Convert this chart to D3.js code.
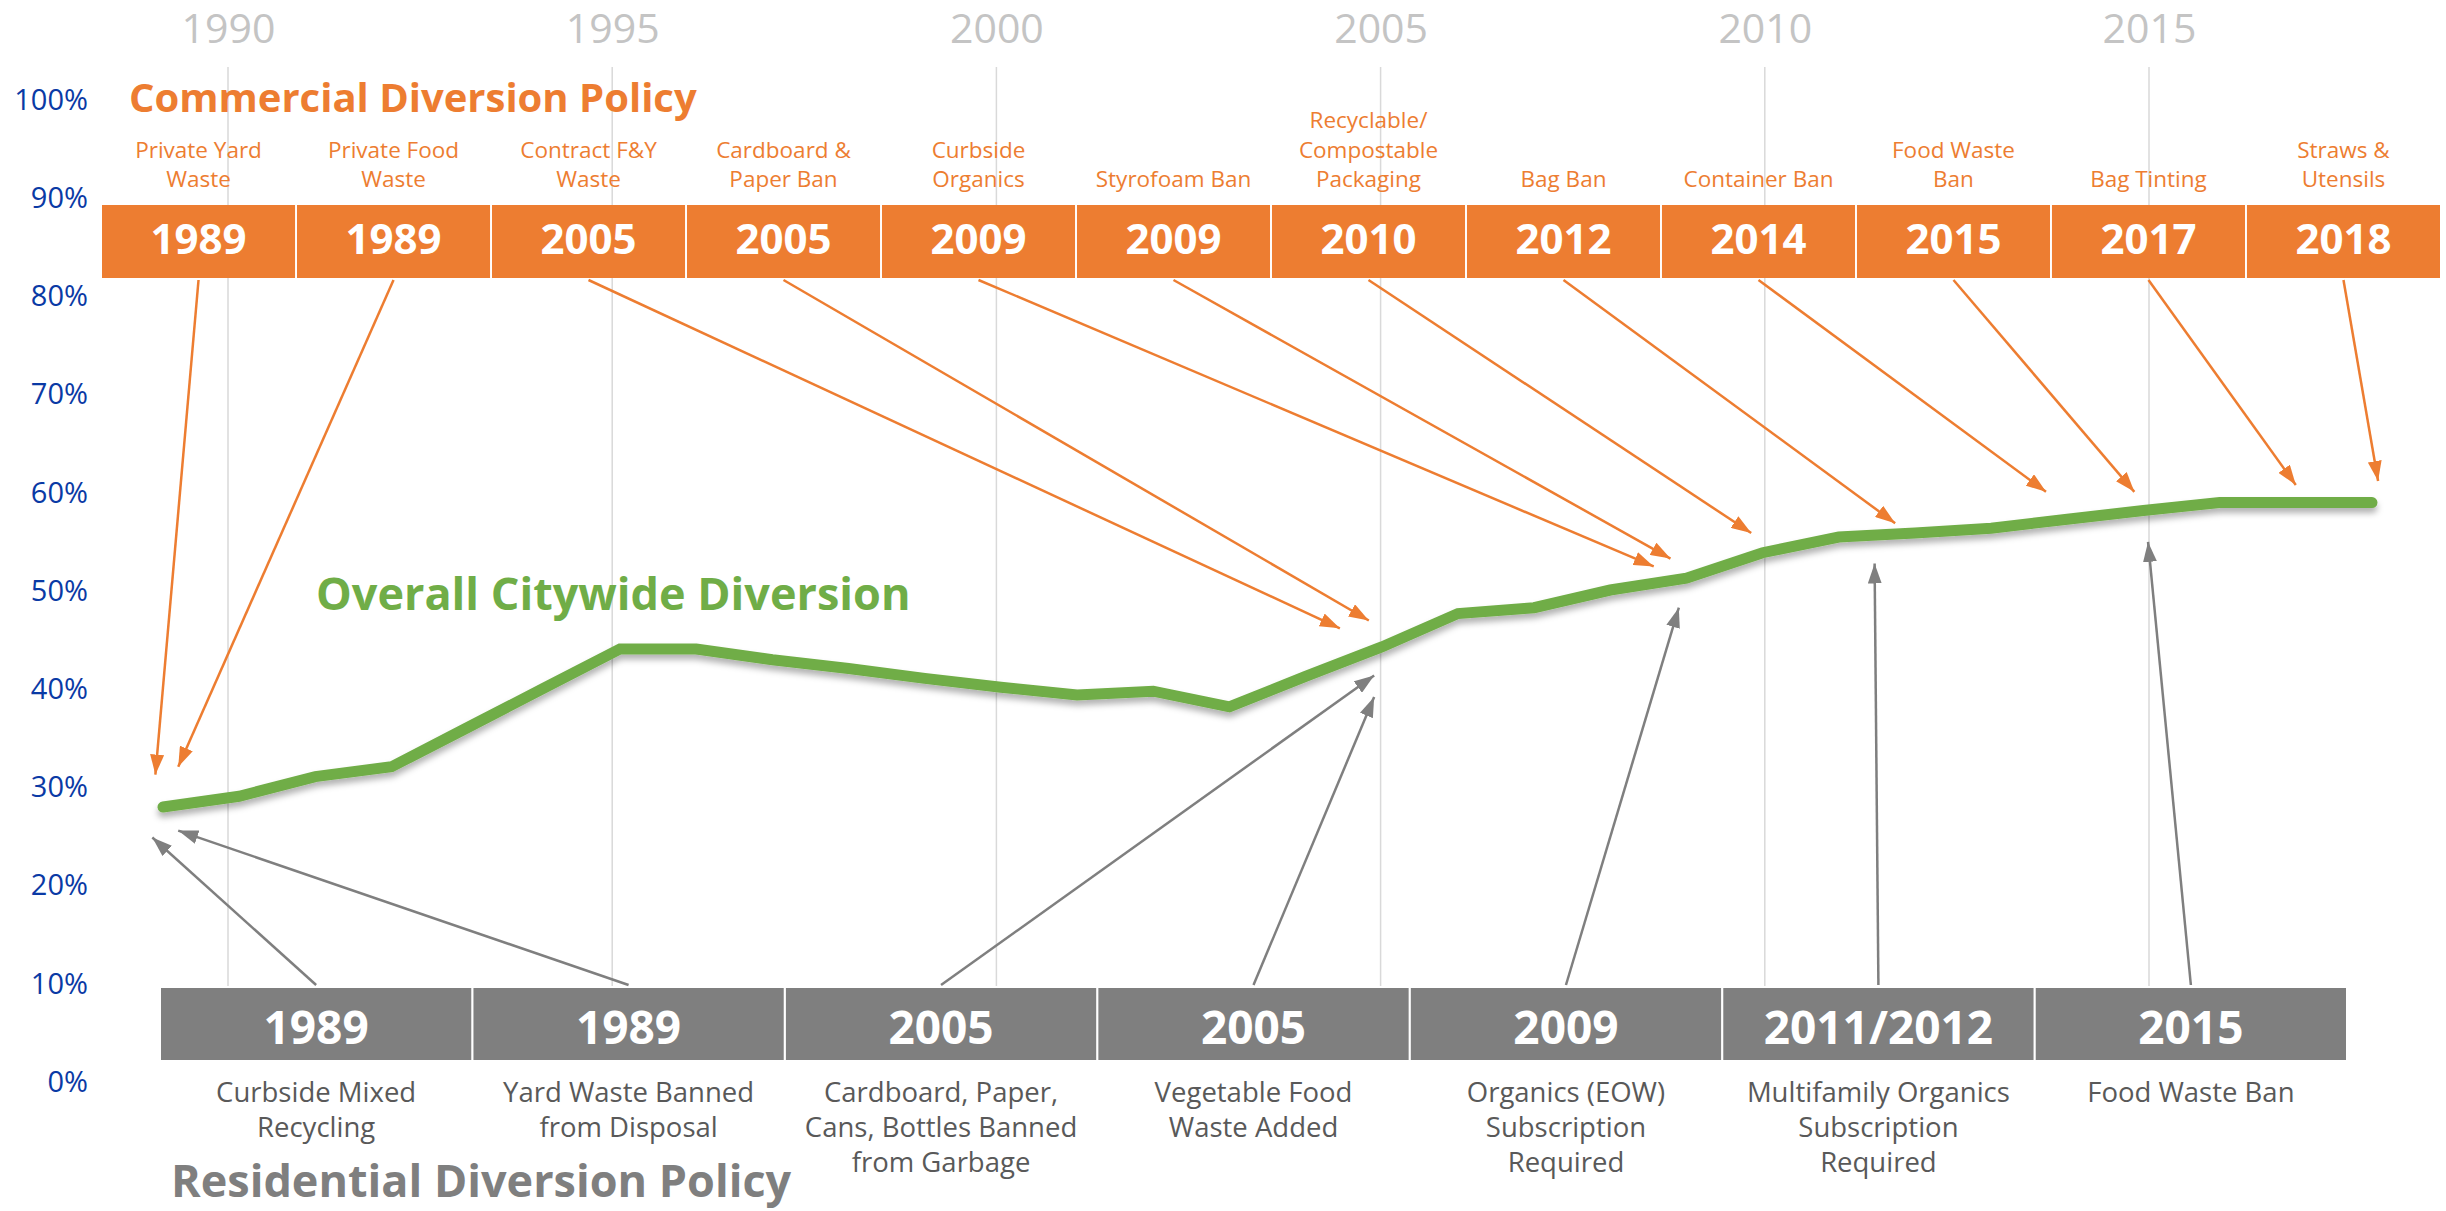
<!DOCTYPE html>
<html>
<head>
<meta charset="utf-8">
<script src="https://cdn.jsdelivr.net/npm/d3@7"></script>
<style>
	body { margin: 0; background: #ffffff; }
	svg { display: block; font-family: "Open Sans", "Noto Sans", sans-serif; }
</style>
</head>
<body>
<div id="chart"></div>
<script>
// overall citywide diversion, one value per year
var diversionYears = [1989, 1990, 1991, 1992, 1993, 1994, 1995, 1996, 1997, 1998,
	1999, 2000, 2001, 2002, 2003, 2004, 2005, 2006, 2007, 2008,
	2009, 2010, 2011, 2012, 2013, 2014, 2015, 2016, 2017, 2018];
var diversionRate = [28.0, 29.1, 31.1, 32.1, 36.1, 40.1, 44.1, 44.1, 43.0, 42.1,
	41.1, 40.2, 39.4, 39.8, 38.2, 41.3, 44.3, 47.7, 48.3, 50.1,
	51.3, 53.9, 55.5, 55.9, 56.4, 57.3, 58.2, 59.0, 59.0, 59.0];

var gridYears = [1990, 1995, 2000, 2005, 2010, 2015];
var percentTicks = [0, 10, 20, 30, 40, 50, 60, 70, 80, 90, 100];

// commercial policies (orange boxes on top)
var commercialYears = ["1989", "1989", "2005", "2005", "2009", "2009", "2010", "2012", "2014", "2015", "2017", "2018"];
var commercialLabels = [
	["Private Yard", "Waste"], ["Private Food", "Waste"], ["Contract F&Y", "Waste"],
	["Cardboard &", "Paper Ban"], ["Curbside", "Organics"], ["Styrofoam Ban"],
	["Recyclable/", "Compostable", "Packaging"], ["Bag Ban"], ["Container Ban"],
	["Food Waste", "Ban"], ["Bag Tinting"], ["Straws &", "Utensils"]];
// where each arrow points, as [year, percent]
var commercialTargets = [[1988.9, 31.3], [1989.2, 32.1], [2004.45, 46.2], [2004.83, 47.0],
	[2008.57, 52.5], [2008.79, 53.3], [2009.85, 55.9], [2011.74, 56.9],
	[2013.72, 60.1], [2014.88, 60.1], [2017.0, 60.8], [2018.08, 61.2]];

// residential policies (gray boxes at the bottom)
var residentialYears = ["1989", "1989", "2005", "2005", "2009", "2011/2012", "2015"];
var residentialLabels = [
	["Curbside Mixed", "Recycling"], ["Yard Waste Banned", "from Disposal"],
	["Cardboard, Paper,", "Cans, Bottles Banned", "from Garbage"],
	["Vegetable Food", "Waste Added"], ["Organics (EOW)", "Subscription", "Required"],
	["Multifamily Organics", "Subscription", "Required"], ["Food Waste Ban"]];
var residentialTargets = [[1988.86, 24.9], [1989.2, 25.6], [2004.9, 41.4], [2004.9, 39.2],
	[2008.9, 48.3], [2011.47, 52.8], [2015.06, 55.0]];

var W = 2446, H = 1211;
var orange = "#ed7d31", gray = "#7f7f7f", green = "#70ad47";

var svg = d3.select("#chart").append("svg")
	.attr("width", W)
	.attr("height", H);

var x = d3.scaleLinear().domain([1989, 2018]).range([163, 2372]);
var xGrid = d3.scaleLinear().domain([1990, 2015]).range([228, 2149]);
var y = d3.scaleLinear().domain([0, 100]).range([1082, 100]);

var defs = svg.append("defs");
var shadow = defs.append("filter").attr("id", "lineShadow")
	.attr("x", "-5%").attr("y", "-20%").attr("width", "110%").attr("height", "140%");
shadow.append("feDropShadow")
	.attr("dx", 0).attr("dy", 5).attr("stdDeviation", 3)
	.attr("flood-color", "#000").attr("flood-opacity", 0.3);

var makeMarker = function(id, color){
	defs.append("marker")
		.attr("id", id)
		.attr("markerUnits", "userSpaceOnUse")
		.attr("viewBox", "0 0 20 14")
		.attr("refX", 20).attr("refY", 7)
		.attr("markerWidth", 20).attr("markerHeight", 14)
		.attr("orient", "auto")
		.append("path")
		.attr("d", "M0,0 L20,7 L0,14 Z")
		.attr("fill", color);
}
makeMarker("arrowOrange", orange);
makeMarker("arrowGray", gray);

// vertical year gridlines
svg.append("g").selectAll("line")
	.data(gridYears)
	.join("line")
	.attr("x1", function(d){ return xGrid(d); })
	.attr("x2", function(d){ return xGrid(d); })
	.attr("y1", 67)
	.attr("y2", 986)
	.attr("stroke", "#d9d9d9")
	.attr("stroke-width", 1.5);

// top year axis
var topAxis = svg.append("g")
	.attr("transform", "translate(0,43)")
	.call(d3.axisTop(xGrid).tickValues(gridYears).tickFormat(d3.format("d")).tickSize(0).tickPadding(0));
topAxis.select(".domain").remove();
topAxis.selectAll("text")
	.attr("font-family", "Open Sans")
	.attr("font-size", 41)
	.attr("fill", "#c4c4c4");

// left percent axis
var leftAxis = svg.append("g")
	.attr("transform", "translate(88,0)")
	.call(d3.axisLeft(y).tickValues(percentTicks).tickFormat(function(d){ return d + "%"; }).tickSize(0).tickPadding(0));
leftAxis.select(".domain").remove();
leftAxis.selectAll("text")
	.attr("font-family", "Open Sans")
	.attr("font-size", 29)
	.attr("fill", "#0a3aa5");

// commercial boxes
var band1 = d3.scaleBand().domain(d3.range(commercialYears.length)).range([102, 2440]).paddingInner(0.01);
var top1 = 205, h1 = 73;
var cg = svg.append("g");
cg.selectAll("rect")
	.data(commercialYears)
	.join("rect")
	.attr("x", function(d, i){ return band1(i); })
	.attr("y", top1)
	.attr("width", band1.bandwidth())
	.attr("height", h1)
	.attr("fill", orange);
cg.selectAll("text.year")
	.data(commercialYears)
	.join("text")
	.attr("class", "year")
	.attr("x", function(d, i){ return band1(i) + band1.bandwidth() / 2; })
	.attr("y", 254)
	.attr("text-anchor", "middle")
	.attr("font-size", 42)
	.attr("font-weight", "bold")
	.attr("fill", "#fff")
	.text(function(d){ return d; });
cg.selectAll("text.label")
	.data(commercialLabels)
	.join("text")
	.attr("class", "label")
	.attr("text-anchor", "middle")
	.attr("font-size", 22.5)
	.attr("fill", orange)
	.each(function(lines, i){
		var t = d3.select(this);
		var cx = band1(i) + band1.bandwidth() / 2;
		lines.forEach(function(line, j){
			t.append("tspan")
				.attr("x", cx)
				.attr("y", 187 - (lines.length - 1 - j) * 29.5)
				.text(line);
		});
	});

// residential boxes
var band2 = d3.scaleBand().domain(d3.range(residentialYears.length)).range([161, 2346]).paddingInner(0.007);
var top2 = 988, h2 = 72;
var rg = svg.append("g");
rg.selectAll("rect")
	.data(residentialYears)
	.join("rect")
	.attr("x", function(d, i){ return band2(i); })
	.attr("y", top2)
	.attr("width", band2.bandwidth())
	.attr("height", h2)
	.attr("fill", gray);
rg.selectAll("text.year")
	.data(residentialYears)
	.join("text")
	.attr("class", "year")
	.attr("x", function(d, i){ return band2(i) + band2.bandwidth() / 2; })
	.attr("y", 1044)
	.attr("text-anchor", "middle")
	.attr("font-size", 46)
	.attr("font-weight", "bold")
	.attr("fill", "#fff")
	.text(function(d){ return d; });
rg.selectAll("text.label")
	.data(residentialLabels)
	.join("text")
	.attr("class", "label")
	.attr("text-anchor", "middle")
	.attr("font-size", 27.5)
	.attr("fill", "#595959")
	.each(function(lines, i){
		var t = d3.select(this);
		var cx = band2(i) + band2.bandwidth() / 2;
		lines.forEach(function(line, j){
			t.append("tspan")
				.attr("x", cx)
				.attr("y", 1102 + j * 35)
				.text(line);
		});
	});

// the diversion line
var points = diversionYears.map(function(yr, i){ return [yr, diversionRate[i]]; });
svg.append("path")
	.datum(points)
	.attr("d", d3.line().x(function(d){ return x(d[0]); }).y(function(d){ return y(d[1]); }))
	.attr("fill", "none")
	.attr("stroke", green)
	.attr("stroke-width", 11)
	.attr("stroke-linejoin", "miter")
	.attr("stroke-linecap", "round")
	.attr("filter", "url(#lineShadow)");

// arrows from boxes to the line
svg.append("g").selectAll("line")
	.data(commercialTargets)
	.join("line")
	.attr("x1", function(d, i){ return band1(i) + band1.bandwidth() / 2; })
	.attr("y1", top1 + h1 + 2)
	.attr("x2", function(d){ return x(d[0]); })
	.attr("y2", function(d){ return y(d[1]); })
	.attr("stroke", orange)
	.attr("stroke-width", 2.5)
	.attr("marker-end", "url(#arrowOrange)");

svg.append("g").selectAll("line")
	.data(residentialTargets)
	.join("line")
	.attr("x1", function(d, i){ return band2(i) + band2.bandwidth() / 2; })
	.attr("y1", top2 - 3)
	.attr("x2", function(d){ return x(d[0]); })
	.attr("y2", function(d){ return y(d[1]); })
	.attr("stroke", gray)
	.attr("stroke-width", 2.5)
	.attr("marker-end", "url(#arrowGray)");

// titles
svg.append("text")
	.attr("x", 129).attr("y", 112)
	.attr("font-size", 40).attr("font-weight", "bold")
	.attr("fill", orange)
	.text("Commercial Diversion Policy");
svg.append("text")
	.attr("x", 316).attr("y", 610)
	.attr("font-size", 45).attr("font-weight", "bold")
	.attr("fill", green)
	.text("Overall Citywide Diversion");
svg.append("text")
	.attr("x", 171).attr("y", 1197)
	.attr("font-size", 45).attr("font-weight", "bold")
	.attr("fill", gray)
	.text("Residential Diversion Policy");
</script>
</body>
</html>
